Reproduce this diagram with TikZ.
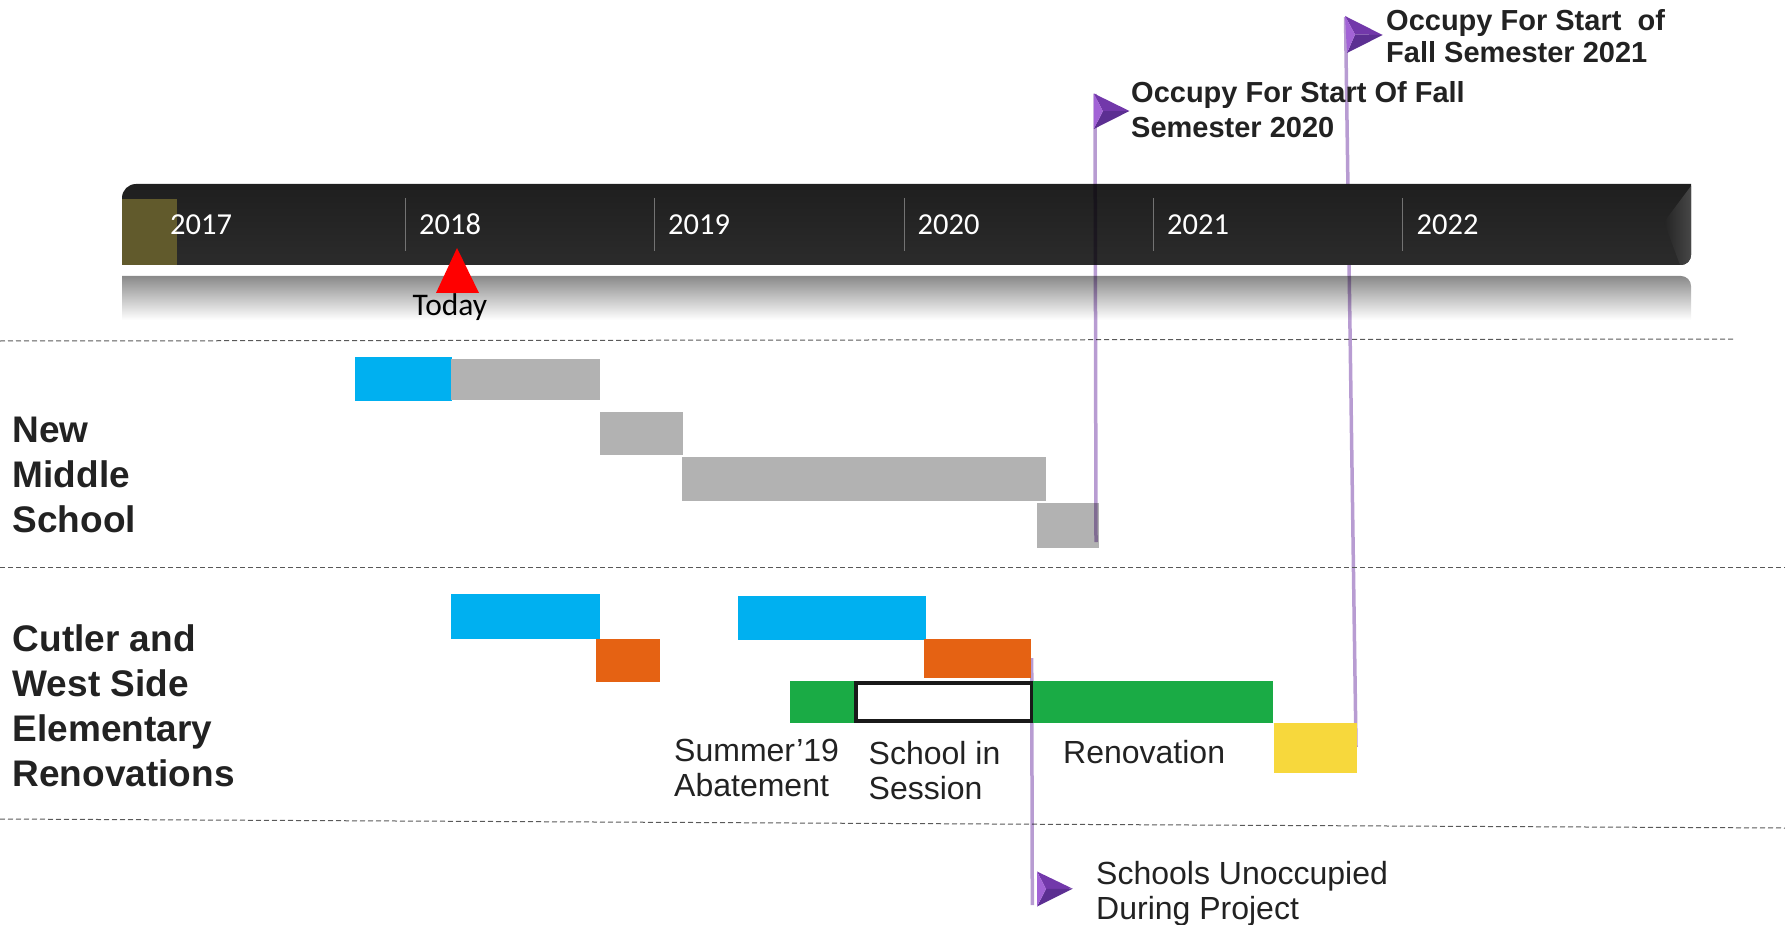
\documentclass[tikz,border=0pt]{standalone}
\usepackage{fontspec}
\setmainfont{Liberation Sans}
\newfontfamily\yearfont{Carlito}
\usetikzlibrary{calc}
\definecolor{txt}{HTML}{222222}
\definecolor{skyb}{HTML}{00B0F0}
\definecolor{grayb}{HTML}{B2B2B2}
\definecolor{orangeb}{HTML}{E56213}
\definecolor{greenb}{HTML}{1AAB45}
\definecolor{yellowb}{HTML}{F7D83C}
\definecolor{pole}{HTML}{B89CD2}
\definecolor{flagmid}{HTML}{7238AA}
\definecolor{flagdark}{HTML}{5C2F92}
\definecolor{flaglight}{HTML}{A263D6}
\tikzset{
  x=1pt,y=-1pt,
  dashline/.style={draw=black!65,dashed,dash pattern=on 5pt off 3pt,line width=1pt},
  poleline/.style={draw=pole,line width=3.5pt,blend mode=multiply},
  year/.style={anchor=base west,inner sep=0pt,text=white,font=\yearfont\fontsize{30.5}{36}\selectfont},
  sep/.style={draw=white!45!black,line width=1pt},
  boldlab/.style={anchor=base west,inner sep=0pt,align=left,text=txt,font=\bfseries\fontsize{29}{35}\selectfont},
  biglab/.style={anchor=base west,inner sep=0pt,align=left,text=txt,font=\bfseries\fontsize{37}{45}\selectfont},
  lab/.style={anchor=base west,inner sep=0pt,align=left,text=txt,font=\fontsize{32}{35}\selectfont},
}
\newcommand{\barrect}[6]{\fill[#1] (#3,#4) rectangle (#5,#6);\coordinate (#2) at (#3,#4);}
\newcommand{\flagshape}[4]{%
  \coordinate (#1a) at #2; \coordinate (#1b) at #3; \coordinate (#1c) at #4;
  \coordinate (#1m) at ($(#1a)!0.5!(#1c)+(9,0)$);
  \fill[flagmid] (#1a) -- (#1b) -- (#1m) -- cycle;
  \fill[flagdark] (#1c) -- (#1b) -- (#1m) -- cycle;
  \fill[flaglight] (#1a) -- (#1m) -- (#1c) -- cycle;
}
\begin{document}
\begin{tikzpicture}
\useasboundingbox (0,0) rectangle (1785,925);
% pole that passes behind the timeline
\coordinate (poleBtop) at (1345.5,17);
\coordinate (poleBbot) at (1356,747);
\draw[poleline] (poleBtop) -- (poleBbot);
% reflection
\shade[top color=black!46,bottom color=white,rounded corners=10]
  (122,320) [sharp corners] -- (122,276) [rounded corners=10] -- (1691,276) [sharp corners] -- (1691,320) -- cycle;
\draw[poleline] ($(poleBtop)!0.3548!(poleBbot)$) -- ($(poleBtop)!0.4151!(poleBbot)$);
% timeline
\shade[top color=black!88,bottom color=black!83]
  (122,265) [rounded corners=14] -- (122,184) [sharp corners] -- (1691,184)
  [rounded corners=10] -- (1691,265) [sharp corners] -- cycle;
\shade[left color=black!86,right color=black!72,rounded corners=8]
  (1691,186) [sharp corners] -- (1664,222) -- (1680,265) [rounded corners=10] -- (1691,265) [sharp corners] -- cycle;
\fill[color={rgb,255:red,97;green,90;blue,44}] (122,199) rectangle (177,265);
\draw[sep] (405,198) -- (405,251);
\draw[sep] (654.5,198) -- (654.5,251);
\draw[sep] (904,198) -- (904,251);
\draw[sep] (1153.5,198) -- (1153.5,251);
\draw[sep] (1402.5,198) -- (1402.5,251);
\node[year] (y17) at (170,235) {2017};
\node[year] (y18) at (419,235) {2018};
\node[year] (y19) at (668,235) {2019};
\node[year] (y20) at (917.5,235) {2020};
\node[year] (y21) at (1167,235) {2021};
\node[year] (y22) at (1416.5,235) {2022};
% today
\fill[red] (457,248) -- (479,293) -- (436,293) -- cycle;
\node[anchor=base west,inner sep=0pt,font=\yearfont\fontsize{31.5}{35}\selectfont] (today) at (412.5,316) {Today};
% dashed lines
\draw[dashline] (0,341) -- (1735,339);
\draw[dashline] (0,567) -- (1785,567);
\draw[dashline] (0,819) -- (1785,828);
% pole C
\coordinate (poleCtop) at (1031.7,658);
\coordinate (poleCbot) at (1032.3,905);
\draw[poleline] (poleCtop) -- (poleCbot);
% bars
\barrect{skyb}{b1}{355}{356.5}{452}{401}
\barrect{grayb}{g1}{451}{358.5}{600}{400}
\barrect{grayb}{g2}{600}{412}{683}{455}
\barrect{grayb}{g3}{682}{456.5}{1046}{501}
\barrect{grayb}{g4}{1037}{503}{1098.5}{547.5}
\barrect{skyb}{b2}{451}{593.5}{600}{638.5}
\barrect{orangeb}{o1}{596}{638.5}{660}{682}
\barrect{skyb}{b3}{738}{595.5}{925.5}{640}
\barrect{orangeb}{o2}{924}{638.5}{1031}{678}
\barrect{greenb}{gr1}{790}{681}{854}{723}
\barrect{greenb}{gr2}{1033}{681}{1273}{723}
\barrect{yellowb}{ye}{1274}{722.5}{1357}{773}
\draw[black!90,line width=3.5pt,fill=white] (856,683) rectangle (1031.5,721);
% pole A over bar
\coordinate (poleAtop) at (1095,94);
\coordinate (poleAbot) at (1096,542);
\draw[poleline] (poleAtop) -- (poleAbot);
% flags
\flagshape{fa}{(1093.8,93.5)}{(1129.4,111)}{(1093.8,129)}
\flagshape{fb}{(1345,16)}{(1382.6,35)}{(1347,53)}
\flagshape{fc}{(1037,871.5)}{(1072.7,888.7)}{(1037,906.5)}
% labels
\node[boldlab] (occ21) at (1386,63) {Occupy For Start\ \ of\\[-3pt]Fall Semester 2021};
\node[boldlab] (occ20) at (1131,138) {Occupy For Start Of Fall\\Semester 2020};
\node[biglab] (nms) at (12.5,532.5) {New\\Middle\\School};
\node[biglab] (cwe) at (12.5,786.5) {Cutler and\\West Side\\Elementary\\Renovations};
\node[lab] (ab) at (674,796) {Summer’19\\Abatement};
\node[lab] (sis) at (868.5,799) {School in\\Session};
\node[lab] (ren) at (1063,763) {Renovation};
\node[lab] (uno) at (1096,919) {Schools Unoccupied\\During Project};
\end{tikzpicture}
\end{document}
